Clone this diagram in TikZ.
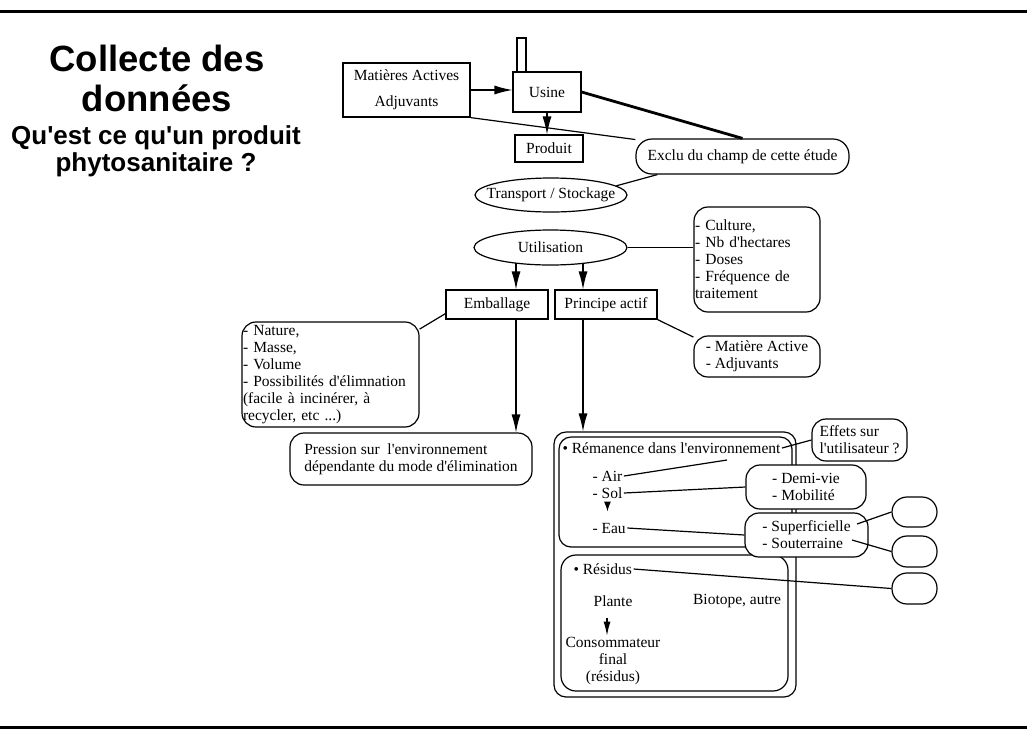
\documentclass[tikz,border=0pt]{standalone}
\usepackage{fontspec}
\setmainfont{Liberation Serif}[Ligatures=TeXOff]
\newfontfamily\titlefont{Liberation Sans}
\usetikzlibrary{shapes.geometric,arrows.meta}

\begin{document}
\begin{tikzpicture}[x=1pt,y=-1pt,
    font=\fontsize{15.5}{17}\selectfont, line width=1.2pt,
    box/.style={draw, rectangle, inner sep=0pt},
    rbox/.style={draw, rounded corners=14pt, inner sep=0pt},
    oval/.style={draw, ellipse, inner sep=0pt},
    txt/.style={inner sep=1pt},
    fleche/.style={-{Latex[length=18pt,width=9pt]}},
    petite/.style={-{Latex[length=10pt,width=7pt]}}]
    \useasboundingbox (0,0) rectangle (1027,729);
    \draw[line width=3pt] (0,11) -- (1027,11);
    \draw[line width=3pt] (0,727.5) -- (1027,727.5);
    % titre
    \node[font=\titlefont\bfseries\fontsize{36.5}{40}\selectfont, align=center] (titre) at (157,78) {Collecte des\\données};
    \node[font=\titlefont\bfseries\fontsize{26}{27}\selectfont, align=center] (soustitre) at (156,151) {Qu'est ce qu'un produit\\phytosanitaire ?};
    % fabrication
    \node[box, minimum width=9pt, minimum height=35pt] (cheminee) at (521.5,55.5) {};
    \node[box, minimum width=127pt, minimum height=54pt, align=center, font=\fontsize{15.5}{26}\selectfont] (matieres) at (406.5,90) {Matières Actives\\Adjuvants};
    \node[box, fill=white, minimum width=68pt, minimum height=40pt] (usine) at (547,92) {Usine};
    \node[box, minimum width=68pt, minimum height=27pt] (produit) at (549,148.5) {Produit};
    \node[rbox, rounded corners=16pt, minimum width=213pt, minimum height=35pt] (exclu) at (742.5,156.5) {Exclu du champ de cette étude};
    \node[oval, minimum width=152pt, minimum height=34pt] (transport) at (551,195) {\makebox[0pt]{Transport / Stockage}};
    \node[oval, minimum width=153pt, minimum height=35pt] (utilisation) at (550.5,247.5) {\makebox[0pt]{Utilisation}};
    \node[rbox, minimum width=126pt, minimum height=105pt, text width=124pt, inner xsep=1pt, align=left] (culture) at (757,259.5) {- Culture,\\- Nb d'hectares\\- Doses\\- Fréquence de\\traitement};
    % utilisation
    \node[box, minimum width=102pt, minimum height=29pt] (emballage) at (497,304.5) {Emballage};
    \node[box, minimum width=102pt, minimum height=29pt] (principe) at (606,304.5) {Principe actif};
    \node[rbox, minimum width=177pt, minimum height=105pt, text width=175pt, inner xsep=1pt, align=left] (nature) at (330.5,374.5) {- Nature,\\- Masse,\\- Volume\\- Possibilités d'élimnation\\(facile à incinérer, à\\recycler, etc ...)};
    \node[rbox, minimum width=242pt, minimum height=52pt, align=left] (pression) at (411,459) {Pression sur\ \ l'environnement\\dépendante du mode d'élimination};
    \node[rbox, minimum width=126pt, minimum height=41pt, align=left] (matact) at (757,356.5) {- Matière Active\\- Adjuvants};
    % milieu
    \node[rbox, rounded corners=12pt, minimum width=242pt, minimum height=265pt] (milieu) at (675,564.5) {};
    \node[rbox, rounded corners=12pt, minimum width=233pt, minimum height=110pt] (remanence) at (675.5,492) {};
    \node[rbox, rounded corners=15pt, minimum width=227pt, minimum height=136pt] (residus) at (674.5,623) {};
    \node[txt, anchor=west] (remtxt) at (561,448) {• Rémanence dans l'environnement};
    \node[txt, anchor=west] (air) at (591,476) {- Air};
    \node[txt, anchor=west] (sol) at (591,493) {- Sol};
    \node[txt, anchor=west] (eau) at (591,528) {- Eau};
    \coordinate (airfin) at (727,460);
    \node[rbox, fill=white, minimum width=95pt, minimum height=42pt, align=left] (effets) at (859.5,440) {Effets sur\\l'utilisateur ?};
    \node[rbox, fill=white, minimum width=120pt, minimum height=44pt, align=left] (demivie) at (806,487) {- Demi-vie\\- Mobilité};
    \node[rbox, fill=white, minimum width=123pt, minimum height=44pt, align=left] (superf) at (806.5,535) {- Superficielle\\- Souterraine};
    \coordinate (supfin) at (857,524);
    \coordinate (soufin) at (852,540);
    \node[rbox, rounded corners=15pt, minimum width=45pt, minimum height=30pt] (vide1) at (914.5,512) {};
    \node[rbox, rounded corners=15pt, minimum width=45pt, minimum height=31pt] (vide2) at (914.5,551.5) {};
    \node[rbox, rounded corners=15pt, minimum width=45pt, minimum height=31pt] (vide3) at (914.5,588.5) {};
    \node[txt, anchor=west] (restxt) at (572,569) {• Résidus};
    \node[txt] (plante) at (613,601) {Plante};
    \node[txt] (biotope) at (737,601) {Biotope, autre};
    \node[txt, align=center] (conso) at (613,661) {Consommateur\\final\\(résidus)};
    \coordinate (versplante) at (607,618);
    % liens
    \draw[fleche] (matieres.east) -- (usine.west |- matieres.east);
    \draw[fleche] (usine.south) -- (usine.south |- produit.north);
    \draw[line width=2.8pt] (usine.east) -- (exclu.north);
    \draw (matieres.south east) -- (exclu.171);
    \draw (transport.8) -- (exclu.192);
    \draw (utilisation.east) -- (utilisation.east -| culture.west);
    \coordinate (versemb) at (516,263);
    \coordinate (verspa) at (583,263);
    \draw[fleche] (versemb) -- (versemb |- emballage.north);
    \draw[fleche] (verspa) -- (verspa |- principe.north);
    \draw (emballage.190) -- (nature.27);
    \draw[fleche] (versemb |- emballage.south) -- (versemb |- pression.north);
    \draw (principe.south east) -- (matact.163);
    \draw[fleche] (verspa |- principe.south) -- (verspa |- milieu.north);
    \draw (remtxt.east) -- (effets.west);
    \draw (air.east) -- (airfin);
    \draw (sol.east) -- (demivie.west);
    \draw[petite, shorten <=2pt, shorten >=9.7pt] (sol.south) -- (sol.south |- eau.north);
    \draw (eau.east) -- (superf.west);
    \draw (supfin) -- (vide1.west);
    \draw (soufin) -- (vide2.west);
    \draw (restxt.east) -- (vide3.west);
    \draw[-{Latex[length=14pt,width=7pt]}] (versplante) -- (versplante |- conso.north);
\end{tikzpicture}
\end{document}
